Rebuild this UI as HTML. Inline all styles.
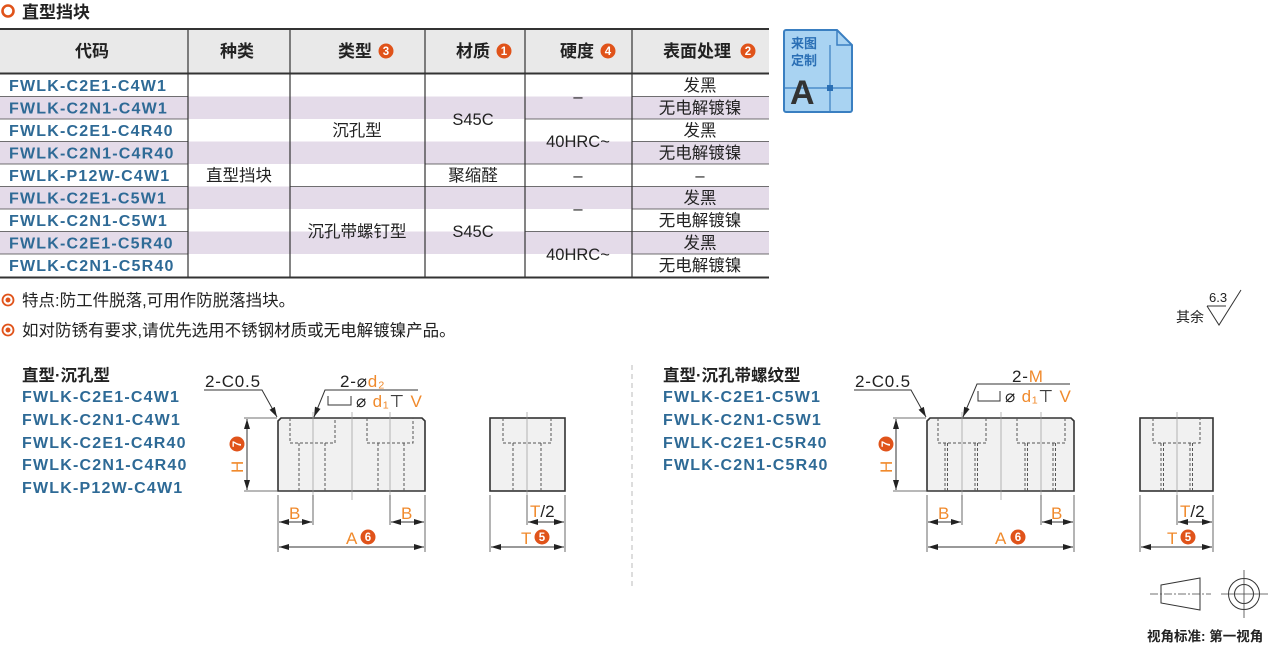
<!DOCTYPE html>
<html><head><meta charset="utf-8"><style>
html,body{margin:0;padding:0;background:#fff;width:1279px;height:647px;overflow:hidden}
svg{display:block;font-family:"Liberation Sans","Noto Sans CJK SC",sans-serif}
.h{font-size:17px;font-weight:bold;fill:#222}
.c{font-size:16px;font-weight:bold;fill:#2e6a96;letter-spacing:1.2px}
.t{font-size:16.5px;fill:#222;text-anchor:middle}
.o{fill:#f08a2c}
.d{font-size:17px;fill:#222;letter-spacing:0.8px}
.ln{stroke:#333;stroke-width:1;fill:none}
.th{stroke:#444;stroke-width:0.8;fill:none}
.ds{stroke:#555;stroke-width:1;stroke-dasharray:3,2;fill:none}
.cl{stroke:#999;stroke-width:0.7;fill:none}
.body{fill:#f1f1f1;stroke:#333;stroke-width:1.6}
.nb{fill:#fff;font-size:11.5px;font-weight:bold;text-anchor:middle}
</style></head><body>
<svg width="1279" height="647" viewBox="0 0 1279 647">
<defs>
<marker id="ar" markerWidth="10" markerHeight="6" refX="10" refY="3" orient="auto-start-reverse" markerUnits="userSpaceOnUse"><path d="M0,0 L10,3 L0,6z" fill="#222"/></marker>
</defs>
<!-- title -->
<circle cx="8" cy="11" r="5.5" fill="none" stroke="#e0531a" stroke-width="2.6"/>
<text x="22" y="18" style="font-size:17px;font-weight:bold;fill:#222">直型挡块</text>
<!-- table -->
<rect x="0" y="30" width="769" height="43" fill="#e9e9e9"/>
<g fill="#e4dbe9">
<rect x="0" y="96.5" width="769" height="22.5"/>
<rect x="0" y="141.5" width="769" height="22.5"/>
<rect x="0" y="186.5" width="769" height="22.5"/>
<rect x="0" y="231.5" width="769" height="22.5"/>
</g>
<g class="th">
<path d="M0 96.5H188M0 119H188M0 141.5H188M0 164H188M0 186.5H188M0 209H188M0 231.5H188M0 254H188"/>
<path d="M632 96.5H769M632 119H769M632 141.5H769M632 164H769M632 186.5H769M632 209H769M632 231.5H769M632 254H769"/>
<path d="M525 119H632M525 164H632M525 186.5H632M525 231.5H632"/>
<path d="M425 164H525M425 186.5H525M290 186.5H425"/>
</g>
<g stroke="#333" stroke-width="1.2">
<path d="M188 30V277M290 30V277M425 30V277M525 30V277M632 30V277"/>
</g>
<g stroke="#333" stroke-width="2">
<path d="M0 29H769M0 73.5H769M0 277.5H769"/>
</g>
<text class="h" x="75" y="57">代码</text>
<text class="h" x="220" y="57">种类</text>
<text class="h" x="338" y="57">类型</text>
<text class="h" x="456" y="57">材质</text>
<text class="h" x="560" y="57">硬度</text>
<text class="h" x="663" y="57">表面处理</text>
<g fill="#e0531a">
<circle cx="386" cy="51" r="7.5"/><circle cx="504" cy="51" r="7.5"/><circle cx="608" cy="51" r="7.5"/><circle cx="748" cy="51" r="7.5"/>
</g>
<text class="nb" x="386" y="55">3</text><text class="nb" x="504" y="55">1</text><text class="nb" x="608" y="55">4</text><text class="nb" x="748" y="55">2</text>
<g class="c">
<text x="9" y="91">FWLK-C2E1-C4W1</text>
<text x="9" y="113.5">FWLK-C2N1-C4W1</text>
<text x="9" y="136">FWLK-C2E1-C4R40</text>
<text x="9" y="158.5">FWLK-C2N1-C4R40</text>
<text x="9" y="181">FWLK-P12W-C4W1</text>
<text x="9" y="203.5">FWLK-C2E1-C5W1</text>
<text x="9" y="226">FWLK-C2N1-C5W1</text>
<text x="9" y="248.5">FWLK-C2E1-C5R40</text>
<text x="9" y="271">FWLK-C2N1-C5R40</text>
</g>
<text class="t" x="239" y="181">直型挡块</text>
<text class="t" x="357" y="136">沉孔型</text>
<text class="t" x="357" y="237">沉孔带螺钉型</text>
<text class="t" x="473" y="125">S45C</text>
<text class="t" x="473" y="181">聚缩醛</text>
<text class="t" x="473" y="237">S45C</text>
<text class="t" x="578" y="102">–</text>
<text class="t" x="578" y="147">40HRC~</text>
<text class="t" x="578" y="181">–</text>
<text class="t" x="578" y="214">–</text>
<text class="t" x="578" y="260">40HRC~</text>
<g class="t">
<text x="700" y="91">发黑</text><text x="700" y="113.5">无电解镀镍</text>
<text x="700" y="136">发黑</text><text x="700" y="158.5">无电解镀镍</text>
<text x="700" y="181">–</text>
<text x="700" y="203.5">发黑</text><text x="700" y="226">无电解镀镍</text>
<text x="700" y="248.5">发黑</text><text x="700" y="271">无电解镀镍</text>
</g>
<!-- blueprint icon -->
<path d="M786 30H837L852 45V110a2 2 0 0 1-2 2H786a2 2 0 0 1-2-2V32a2 2 0 0 1 2-2z" fill="#a9d3f2" stroke="#3a7fc1" stroke-width="2"/>
<path d="M837 30V45H852" fill="none" stroke="#3a7fc1" stroke-width="1.5"/>
<path d="M784 88H852M830 45V112" stroke="#3a7fc1" stroke-width="1.2"/>
<rect x="827" y="85" width="6" height="6" fill="#2a6fb5"/>
<text x="791" y="48" style="font-size:13px;font-weight:bold;fill:#2a6fb5">来图</text>
<text x="791" y="65" style="font-size:13px;font-weight:bold;fill:#2a6fb5">定制</text>
<text x="790" y="104" style="font-size:34px;font-weight:bold;fill:#333">A</text>
<!-- notes -->
<circle cx="8" cy="300" r="5.5" fill="none" stroke="#e0531a" stroke-width="1.8"/><circle cx="8" cy="300" r="2.5" fill="#e0531a"/>
<text x="22" y="306" style="font-size:16.5px;fill:#222">特点:防工件脱落,可用作防脱落挡块。</text>
<circle cx="8" cy="330" r="5.5" fill="none" stroke="#e0531a" stroke-width="1.8"/><circle cx="8" cy="330" r="2.5" fill="#e0531a"/>
<text x="22" y="336" style="font-size:16.5px;fill:#222">如对防锈有要求,请优先选用不锈钢材质或无电解镀镍产品。</text>
<!-- roughness -->
<text x="1176" y="322" style="font-size:14px;fill:#222">其余</text>
<path d="M1207 306L1219 325L1241 290" class="ln"/><path d="M1207 306H1226" class="ln"/>
<text x="1209" y="302" style="font-size:13px;fill:#222">6.3</text>
<!-- left labels -->
<text x="22" y="381" style="font-size:16.5px;font-weight:bold;fill:#222">直型·沉孔型</text>
<g class="c">
<text x="22" y="402">FWLK-C2E1-C4W1</text>
<text x="22" y="425">FWLK-C2N1-C4W1</text>
<text x="22" y="448">FWLK-C2E1-C4R40</text>
<text x="22" y="470">FWLK-C2N1-C4R40</text>
<text x="22" y="493">FWLK-P12W-C4W1</text>
</g>
<text x="663" y="381" style="font-size:16.5px;font-weight:bold;fill:#222">直型·沉孔带螺纹型</text>
<g class="c">
<text x="663" y="402">FWLK-C2E1-C5W1</text>
<text x="663" y="425">FWLK-C2N1-C5W1</text>
<text x="663" y="448">FWLK-C2E1-C5R40</text>
<text x="663" y="470">FWLK-C2N1-C5R40</text>
</g>
<path d="M632 365V590" stroke="#bbb" stroke-dasharray="5,4"/>

<!-- DRAWING 1 -->
<path class="body" d="M281 418H422L425 421V491H278V421Z"/>
<g class="ds">
<path d="M290 418V443H335V418M299 443V491M325 443V491"/>
<path d="M367 418V443H413V418M378 443V491M404 443V491"/>
</g>
<g class="cl"><path d="M313 412V500M352 412V500M390 412V500"/></g>
<text class="d" x="205" y="387">2-C0.5</text>
<path class="ln" d="M204 390H262L277 417" marker-end="url(#ar)"/>
<text class="d" x="340" y="387">2-⌀<tspan class="o">d₂</tspan></text>
<path class="ln" d="M418 390H325L314 417" marker-end="url(#ar)"/>
<path class="ln" d="M328 396V405H351V396"/>
<text class="d" x="356" y="407">⌀ <tspan class="o">d₁</tspan>⊤ <tspan class="o">V</tspan></text>
<path class="th" d="M244 418H277M244 491H277"/>
<path class="ln" d="M247 419V490" marker-start="url(#ar)" marker-end="url(#ar)"/>
<text transform="translate(243,473) rotate(-90)" class="o" style="font-size:17px">H</text>
<circle cx="237" cy="444" r="7.5" fill="#e0531a"/><text class="nb" transform="translate(241,444) rotate(-90)">7</text>
<path class="th" d="M278 495V552M313 495V525M390 495V525M425 495V552"/>
<path class="ln" d="M279 522H312" marker-start="url(#ar)" marker-end="url(#ar)"/>
<path class="ln" d="M391 522H424" marker-start="url(#ar)" marker-end="url(#ar)"/>
<text class="o" x="289" y="519" style="font-size:17px">B</text>
<text class="o" x="401" y="519" style="font-size:17px">B</text>
<path class="ln" d="M279 547H424" marker-start="url(#ar)" marker-end="url(#ar)"/>
<text class="o" x="346" y="544" style="font-size:17px">A</text>
<circle cx="368" cy="537" r="7.5" fill="#e0531a"/><text class="nb" x="368" y="541">6</text>
<rect class="body" x="490" y="418" width="75" height="73"/>
<g class="ds"><path d="M503 418V443H551V418M513 443V491M541 443V491"/></g>
<path class="cl" d="M527 412V495"/>
<path class="th" d="M490 495V552M565 495V552M527 495V525"/>
<path class="ln" d="M528 522H564" marker-start="url(#ar)" marker-end="url(#ar)"/>
<text x="530" y="517" style="font-size:17px"><tspan class="o">T</tspan><tspan fill="#222">/2</tspan></text>
<path class="ln" d="M491 547H564" marker-start="url(#ar)" marker-end="url(#ar)"/>
<text class="o" x="521" y="544" style="font-size:17px">T</text>
<circle cx="542" cy="537" r="7.5" fill="#e0531a"/><text class="nb" x="542" y="541">5</text>

<!-- DRAWING 2 -->
<path class="body" d="M930 418H1071L1074 421V491H927V421Z"/>
<g class="ds">
<path d="M938 418V443H986V418M1017 418V443H1065V418"/>
<path d="M945 443V491M947.5 443V491M975 443V491M977.5 443V491"/>
<path d="M1025 443V491M1027.5 443V491M1053 443V491M1055.5 443V491"/>
</g>
<g class="cl"><path d="M962 412V500M1001 412V500M1041 412V500"/></g>
<text class="d" x="855" y="387">2-C0.5</text>
<path class="ln" d="M854 390H911L926 417" marker-end="url(#ar)"/>
<text class="d" x="1012" y="382">2-<tspan class="o">M</tspan></text>
<path class="ln" d="M1070 384H977L963 417" marker-end="url(#ar)"/>
<path class="ln" d="M978 391V401H1000V391"/>
<text class="d" x="1005" y="402">⌀ <tspan class="o">d₁</tspan>⊤ <tspan class="o">V</tspan></text>
<path class="th" d="M893 418H926M893 491H926"/>
<path class="ln" d="M896 419V490" marker-start="url(#ar)" marker-end="url(#ar)"/>
<text transform="translate(892,473) rotate(-90)" class="o" style="font-size:17px">H</text>
<circle cx="886" cy="444" r="7.5" fill="#e0531a"/><text class="nb" transform="translate(890,444) rotate(-90)">7</text>
<path class="th" d="M927 495V552M962 495V525M1041 495V525M1074 495V552"/>
<path class="ln" d="M928 522H961" marker-start="url(#ar)" marker-end="url(#ar)"/>
<path class="ln" d="M1042 522H1073" marker-start="url(#ar)" marker-end="url(#ar)"/>
<text class="o" x="938" y="519" style="font-size:17px">B</text>
<text class="o" x="1051" y="519" style="font-size:17px">B</text>
<path class="ln" d="M928 547H1073" marker-start="url(#ar)" marker-end="url(#ar)"/>
<text class="o" x="995" y="544" style="font-size:17px">A</text>
<circle cx="1018" cy="537" r="7.5" fill="#e0531a"/><text class="nb" x="1018" y="541">6</text>
<rect class="body" x="1140" y="418" width="73" height="73"/>
<g class="ds"><path d="M1153 418V443H1200V418M1161 443V491M1163.5 443V491M1190 443V491M1192.5 443V491"/></g>
<path class="cl" d="M1177 412V495"/>
<path class="th" d="M1140 495V552M1213 495V552M1177 495V525"/>
<path class="ln" d="M1178 522H1212" marker-start="url(#ar)" marker-end="url(#ar)"/>
<text x="1180" y="517" style="font-size:17px"><tspan class="o">T</tspan><tspan fill="#222">/2</tspan></text>
<path class="ln" d="M1141 547H1212" marker-start="url(#ar)" marker-end="url(#ar)"/>
<text class="o" x="1167" y="544" style="font-size:17px">T</text>
<circle cx="1188" cy="537" r="7.5" fill="#e0531a"/><text class="nb" x="1188" y="541">5</text>

<!-- projection symbol -->
<path class="ln" d="M1161 585L1200 578V610L1161 603Z"/>
<path class="th" d="M1150 594H1211" stroke-dasharray="8,2,2,2"/>
<circle class="ln" cx="1244" cy="594" r="15.5"/>
<circle class="ln" cx="1244" cy="594" r="9.5"/>
<path class="th" d="M1221 594H1268M1244 570V618"/>
<text x="1147" y="641" style="font-size:13.5px;font-weight:bold;fill:#222">视角标准: 第一视角</text>
</svg>
</body></html>
